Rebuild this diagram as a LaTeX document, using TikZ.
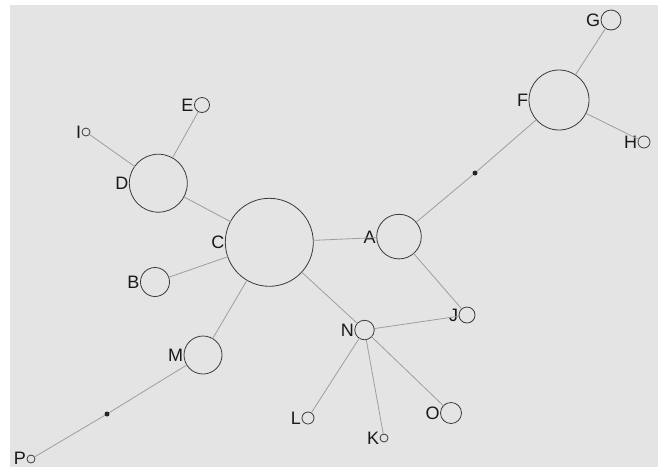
\documentclass[tikz,border=0pt]{standalone}
\usepackage{fontspec}
\setmainfont{Liberation Sans}
\definecolor{bg}{HTML}{E4E4E4}
\definecolor{edgec}{HTML}{9E9E9E}
\definecolor{ringc}{HTML}{3A3A3A}
\begin{document}
\begin{tikzpicture}[x=1pt,y=-1pt,
  vert/.style={circle,draw=ringc,line width=0.8pt,fill=bg,inner sep=0pt,outer sep=0pt,minimum size=#1},
  lab/.style={font=\fontsize{18}{18}\selectfont,text=black!90,inner xsep=0.8pt,inner ysep=0pt,text height=12.9pt,text depth=0pt,label distance=0pt},
  dotn/.style={circle,fill=black!85,inner sep=0pt,minimum size=5pt},
  edge/.style={draw=edgec,line width=0.8pt}]
\useasboundingbox (0,0) rectangle (658,467);
\fill[white] (0,0) rectangle (658,467);
\fill[bg] (10,5) rectangle (658,467);
% nodes
\node[vert=88pt,label={[lab]left:C}] (C) at (269.3,242.3) {};
\node[vert=58pt,label={[lab]left:D}] (D) at (158.3,183.2) {};
\node[vert=15pt,label={[lab]left:E}] (E) at (202,105) {};
\node[vert=8pt,label={[lab]left:I}] (I) at (86,132) {};
\node[vert=29pt,label={[lab]left:B}] (B) at (155,282) {};
\node[vert=38pt,label={[lab]left:M}] (M) at (203,355) {};
\node[vert=8pt,label={[lab,yshift=0.8pt]left:P}] (P) at (31,459) {};
\node[vert=44.6pt,label={[lab]left:A}] (A) at (399,236.6) {};
\node[vert=60pt,label={[lab]left:F}] (F) at (559,100) {};
\node[vert=20pt,label={[lab]left:G}] (G) at (611,20) {};
\node[vert=12pt,label={[lab]left:H}] (H) at (644,142) {};
\node[vert=16pt,label={[lab]left:J}] (J) at (467,315) {};
\node[vert=19.5pt,label={[lab]left:N}] (N) at (364.5,330) {};
\node[vert=12pt,label={[lab]left:L}] (L) at (308,418) {};
\node[vert=8pt,label={[lab]left:K}] (K) at (384,438) {};
\node[vert=21pt,label={[lab]left:O}] (O) at (451,413) {};
\node[dotn] (d1) at (107,414) {};
\node[dotn] (d2) at (475,173) {};
% edges
\path[edge] (I) -- (D);
\path[edge] (E) -- (D);
\path[edge] (D) -- (C);
\path[edge] (B) -- (C);
\path[edge] (C) -- (A);
\path[edge] (C) -- (M);
\path[edge] (C) -- (N);
\path[edge] (M) -- (d1) -- (P);
\path[edge] (A) -- (d2) -- (F);
\path[edge] (F) -- (G);
\path[edge] (F) -- (H);
\path[edge] (A) -- (J);
\path[edge] (N) -- (J);
\path[edge] (N) -- (L);
\path[edge] (N) -- (K);
\path[edge] (N) -- (O);
\end{tikzpicture}
\end{document}
